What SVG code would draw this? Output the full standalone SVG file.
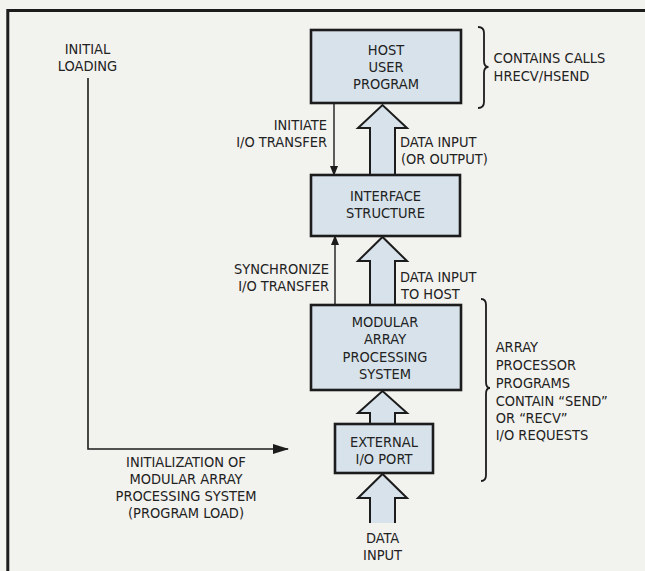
<svg xmlns="http://www.w3.org/2000/svg" width="645" height="571" viewBox="0 0 645 571">
<style>
text{font-family:"DejaVu Sans Condensed","Liberation Sans Narrow","Liberation Sans",sans-serif;font-size:14.5px;fill:#222;}
.c{text-anchor:middle;}
.r{text-anchor:end;}
.box{fill:#d7e2eb;stroke:#1c1c1c;stroke-width:2.6;}
.big{fill:#d7e2eb;stroke:#1c1c1c;stroke-width:2;stroke-linejoin:miter;}
.thin{fill:none;stroke:#1c1c1c;stroke-width:1.4;}
.brace{fill:none;stroke:#1c1c1c;stroke-width:1.8;}
</style>
<defs>
<marker id="ah" markerWidth="10" markerHeight="8" refX="9" refY="4" orient="auto" markerUnits="userSpaceOnUse">
<path d="M0 0 L10 4 L0 8 Z" fill="#1c1c1c"/>
</marker>
<marker id="ahl" markerWidth="16" markerHeight="10" refX="15" refY="5" orient="auto" markerUnits="userSpaceOnUse">
<path d="M0 0 L16 5 L0 10 Z" fill="#1c1c1c"/>
</marker>
</defs>
<rect width="645" height="571" fill="#f2f2ef"/>
<path d="M7.8 571 V10.5 H645" fill="none" stroke="#1c1c1c" stroke-width="3"/>

<g id="connectors">
<path class="thin" d="M334 103 V175" marker-end="url(#ah)"/>
<path class="thin" d="M335 305 V236" marker-end="url(#ah)"/>
<path class="big" d="M370 174 V128 H358 L382.5 105 L407 128 H395 V174"/>
<path class="big" d="M370 305 V261 H358 L382.5 237 L407 261 H395 V305"/>
<path class="big" d="M370 424 V413 H358 L382.5 391 L407 413 H395 V424"/>
<path class="big" d="M370 523 V498 H358 L382.5 474 L407 498 H395 V523"/>
<path d="M88 78 V449 H288" fill="none" stroke="#1c1c1c" stroke-width="1.6" marker-end="url(#ahl)"/>
</g>

<g id="host">
<rect class="box" x="311" y="30" width="150" height="73"/>
<text class="c" x="386" y="55">HOST</text>
<text class="c" x="386" y="72.2">USER</text>
<text class="c" x="386" y="89.4">PROGRAM</text>
</g>

<g id="interface">
<rect class="box" x="311" y="175" width="149" height="61"/>
<text class="c" x="385.5" y="200.5">INTERFACE</text>
<text class="c" x="385.5" y="218">STRUCTURE</text>
</g>

<g id="maps">
<rect class="box" x="311" y="305" width="150" height="85"/>
<text class="c" x="385" y="326.5">MODULAR</text>
<text class="c" x="385" y="344">ARRAY</text>
<text class="c" x="385" y="361.5">PROCESSING</text>
<text class="c" x="385" y="379">SYSTEM</text>
</g>

<g id="extport">
<rect class="box" x="335" y="424" width="98" height="49"/>
<text class="c" x="384" y="446.5">EXTERNAL</text>
<text class="c" x="384" y="464">I/O PORT</text>
</g>

<g id="labels">
<text class="c" x="87.5" y="54">INITIAL</text>
<text class="c" x="87.5" y="71.2">LOADING</text>
<text class="r" x="327" y="130">INITIATE</text>
<text class="r" x="327" y="147.2">I/O TRANSFER</text>
<text x="400" y="147">DATA INPUT</text>
<text x="401" y="164.2">(OR OUTPUT)</text>
<text class="r" x="329" y="273.5">SYNCHRONIZE</text>
<text class="r" x="329" y="290.7">I/O TRANSFER</text>
<text x="400" y="281.5">DATA INPUT</text>
<text x="401" y="298.7">TO HOST</text>
<text x="493.6" y="63.3">CONTAINS CALLS</text>
<text x="493.6" y="80.5">HRECV/HSEND</text>
<text x="495.7" y="352">ARRAY</text>
<text x="495.7" y="370">PROCESSOR</text>
<text x="495.7" y="388">PROGRAMS</text>
<text x="495.7" y="405.5">CONTAIN “SEND”</text>
<text x="495.7" y="423">OR “RECV”</text>
<text x="495.7" y="440.2">I/O REQUESTS</text>
<text class="c" x="186" y="466.5">INITIALIZATION OF</text>
<text class="c" x="186" y="483.7">MODULAR ARRAY</text>
<text class="c" x="186" y="500.9">PROCESSING SYSTEM</text>
<text class="c" x="186" y="518.1">(PROGRAM LOAD)</text>
<text class="c" x="382.6" y="543.2">DATA</text>
<text class="c" x="382.6" y="560.4">INPUT</text>
</g>

<g id="braces">
<path class="brace" d="M478 27 Q484 27 484 33 V61 Q484 67 488.5 67 Q484 67 484 73 V102 Q484 108 478 108"/>
<path class="brace" d="M481 299 Q486 299 486 305 V382 Q486 388 490 388 Q486 388 486 394 V475 Q486 481 481 481"/>
</g>
</svg>
